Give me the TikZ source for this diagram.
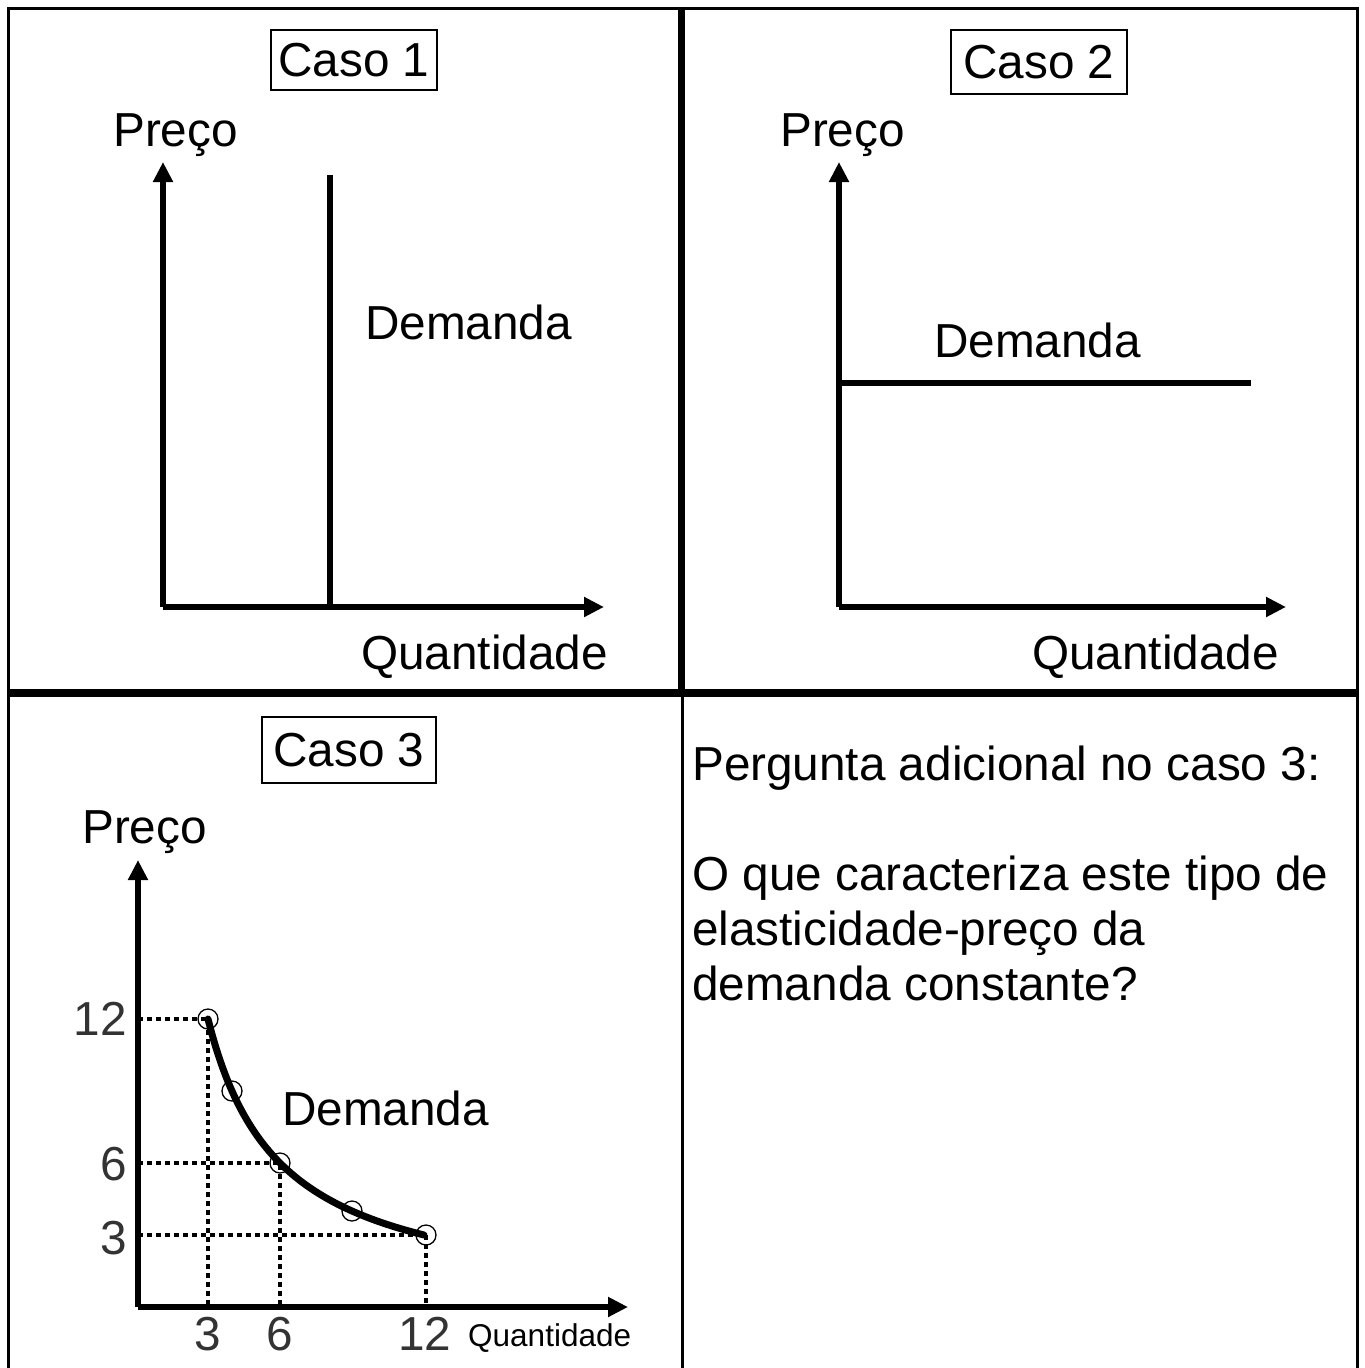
\documentclass[tikz,border=0pt]{standalone}
\usepackage{fontspec}
\setmainfont{Liberation Sans}
\usetikzlibrary{arrows.meta}
\begin{document}
\begin{tikzpicture}[x=1pt,y=-1pt,
  every node/.style={inner sep=0pt,font=\fontsize{47.7}{56}\selectfont},
  lbl/.style={anchor=base west},
  axis/.style={line width=5.5pt,-{Triangle[length=20pt,width=19pt]}},
  demand/.style={line width=6pt},
  casebox/.style={draw,line width=1.6pt,anchor=center},
  dot/.style={line width=4pt,dash pattern=on 4.5pt off 4.5pt},
  tick/.style={text=black!80},
  pt/.style={circle,draw,line width=1.3pt,minimum size=20pt},
  frame/.style={line width=3pt}]
\useasboundingbox (0,0) rectangle (1365,1368);
% frame
\coordinate (tl) at (8,8); \coordinate (tr) at (1357,8);
\coordinate (bl) at (8,1372); \coordinate (br) at (1357,1372);
\draw[frame] (bl) -- (tl) -- (tr) -- (br);
\coordinate (hl) at (8,693); \coordinate (hr) at (1357,693);
\draw[line width=8pt] (hl) -- (hr);
\coordinate (vt) at (681,8); \coordinate (vm) at (681,693);
\draw[line width=7pt] (vt) -- (vm);
\coordinate (vm2) at (682,693); \coordinate (vb) at (682,1372);
\draw[line width=3pt] (vm2) -- (vb);
% Caso 1
\node[casebox,minimum width=166pt,minimum height=60pt] (c1) at (354,60) {Caso 1};
\node[lbl] (p1) at (113,146) {Preço};
\coordinate (o1) at (163,607);
\coordinate (y1) at (163,162);
\coordinate (x1) at (604,607);
\draw[axis] (o1) -- (y1);
\draw[axis] (o1) -- (x1);
\coordinate (d1t) at (330,175); \coordinate (d1b) at (330,607);
\draw[demand] (d1t) -- (d1b);
\node[lbl] (dem1) at (365,339) {Demanda};
\node[lbl] (q1) at (361,669) {Quantidade};
% Caso 2
\node[casebox,minimum width=176pt,minimum height=64pt] (c2) at (1039,62) {Caso 2};
\node[lbl] (p2) at (780,146) {Preço};
\coordinate (o2) at (839,607);
\coordinate (y2) at (839,162);
\coordinate (x2) at (1286,607);
\draw[axis] (o2) -- (y2);
\draw[axis] (o2) -- (x2);
\coordinate (d2l) at (839,383); \coordinate (d2r) at (1251,383);
\draw[demand] (d2l) -- (d2r);
\node[lbl] (dem2) at (934,357) {Demanda};
\node[lbl] (q2) at (1032,669) {Quantidade};
% Caso 3
\node[casebox,minimum width=174pt,minimum height=66pt] (c3) at (349,750) {Caso 3};
\node[lbl] (p3t) at (82,843) {Preço};
\coordinate (o3) at (138,1307);
\coordinate (y3) at (138,860);
\coordinate (x3) at (628,1307);
% dotted guides
\coordinate (ya12) at (138,1019); \coordinate (ya6) at (138,1163); \coordinate (ya3) at (138,1235);
\coordinate (xa3) at (208,1307); \coordinate (xa6) at (280,1307); \coordinate (xa12) at (426,1307);
\coordinate (q3) at (208,1019); \coordinate (q6) at (280,1163); \coordinate (q12) at (426,1235);
\draw[dot] (ya12) -- (q3) -- (xa3);
\draw[dot] (ya6) -- (q6) -- (xa6);
\draw[dot] (ya3) -- (q12) -- (xa12);
\draw[line width=7pt,line cap=round] plot[domain=3:12,samples=60,smooth] ({136+24*\x},{1307-864/\x});
\node[pt] (pt3) at (q3) {};
\node[pt] (pt4) at (232,1091) {};
\node[pt] (pt6) at (q6) {};
\node[pt] (pt9) at (352,1211) {};
\node[pt] (pt12) at (q12) {};
\draw[axis] (o3) -- (y3);
\draw[axis] (o3) -- (x3);
\node[lbl] (dem3) at (282,1125) {Demanda};
\node[tick,anchor=base east] (t12) at (127,1035) {12};
\node[tick,anchor=base east] (t6) at (127,1180) {6};
\node[tick,anchor=base east] (t3) at (127,1254) {3};
\node[tick,anchor=base] (b3) at (208,1350) {3};
\node[tick,anchor=base] (b6) at (280,1350) {6};
\node[tick,anchor=base] (b12) at (425,1350) {12};
\node[lbl,font=\fontsize{31.5}{36}\selectfont] (q3l) at (468,1346) {Quantidade};
% question panel
\node[lbl] (qa) at (692,780) {Pergunta adicional no caso 3:};
\node[lbl] (qb) at (692,890) {O que caracteriza este tipo de};
\node[lbl] (qc) at (692,945) {elasticidade-preço da};
\node[lbl] (qd) at (692,1000) {demanda constante?};
\end{tikzpicture}
\end{document}
